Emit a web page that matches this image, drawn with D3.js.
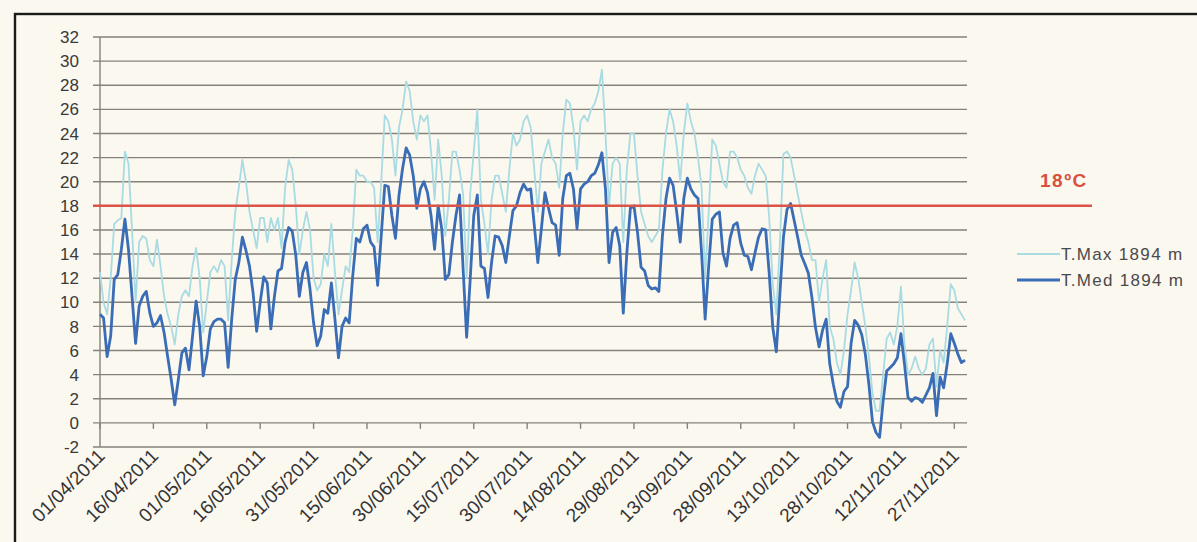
<!DOCTYPE html>
<html><head><meta charset="utf-8">
<script src="https://cdn.jsdelivr.net/npm/d3@7"></script>
<style>
html,body{margin:0;padding:0;background:#fbf8f0;overflow:hidden;}
svg{display:block;}
</style></head>
<body>
<svg id="chart" width="1197" height="542"></svg>
<script>
// ---- data ----
const startDate = "01/04/2011";
const tickLabels = ["01/04/2011","16/04/2011","01/05/2011","16/05/2011","31/05/2011","15/06/2011","30/06/2011","15/07/2011","30/07/2011","14/08/2011","29/08/2011","13/09/2011","28/09/2011","13/10/2011","28/10/2011","12/11/2011","27/11/2011"];
const yTicks = [-2,0,2,4,6,8,10,12,14,16,18,20,22,24,26,28,30,32];
const threshold = 18;
const thresholdLabel = "18ºC";
const seriesNames = ["T.Max 1894 m","T.Med 1894 m"];
const tMax = [
12.5,10,9,12,16.5,16.8,17,22.5,21.5,16,
10,15,15.5,15.3,13.5,13,15.2,13,10.5,9,
8,6.5,9,10.5,11,10.5,13,14.5,12,7.5,
10,12.5,13,12.5,13.5,13,8.5,13.5,17.5,19.5,
21.8,20,17.5,16,14.5,17,17,15,17,16,
17,14.5,19.5,21.8,21,18,14,16,17.5,16,
12,11,11.5,14,13,16.5,12.5,9,11,13,
12.5,16,21,20.5,20.5,20,20,19.5,15,20,
25.5,25,23.5,20.5,24.5,26,28.3,27.5,25,23.5,
25.5,25,25.5,22.5,18.5,23.5,20.5,15.5,18.5,22.5,
22.5,21,19,12,19,22.5,26,18.5,16.5,14,
18.5,20.5,20.5,19,17.5,21,24,23,23.5,25,
25.5,24.5,21,17.5,21.5,22.5,23.5,22,21.5,19.5,
24,26.8,26.5,24.5,21,25,25.5,25,26,26.5,
27.5,29.3,24,18,21.5,22,21.5,15,21,24,
24,20.5,17.5,16.5,15.5,15,15.5,16,21,24,
26,25,23,20,24,26.5,25,24,22,19.5,
12,17.5,23.5,23,21.5,20,19.5,22.5,22.5,22,
21,20.5,19.5,19,20.5,21.5,21,20.5,17,11.5,
9,15,22.3,22.5,22,20.5,19,17.5,16,15,
13.5,13.5,10,12,13.5,8,7,5,4,6,
9,11,13.3,12,10,8,5.5,2.5,1,1,
4,7,7.5,6.5,8,11.3,6.5,4,4.5,5.5,
4.5,4,4.5,6.5,7,3,6,5,8,11.5,
11,9.5,9,8.5];
const tMed = [
9.0,8.7,5.5,7.2,11.9,12.3,14.4,16.9,14.4,10.5,
6.6,9.7,10.5,10.9,9.1,8.0,8.3,8.9,7.5,5.5,
3.6,1.5,3.6,5.8,6.2,4.4,7.2,10.1,8.0,3.9,
5.5,7.8,8.4,8.6,8.6,8.3,4.6,8.6,11.9,13.3,
15.4,14.3,13.0,10.8,7.6,10.0,12.1,11.6,7.8,10.5,
12.6,12.8,15.0,16.2,15.9,13.9,10.5,12.5,13.3,11.1,
8.3,6.4,7.2,9.4,9.1,11.6,8.6,5.4,8.0,8.7,
8.3,12.2,15.3,15.0,16.1,16.4,15.0,14.6,11.4,15.5,
19.7,19.6,17.2,15.3,18.9,21.1,22.8,22.2,20.5,17.8,
19.4,20.0,19.1,17.2,14.4,18.0,16.1,11.9,12.3,15.0,
17.2,18.9,12.8,7.1,11.9,17.2,18.9,13.0,12.8,10.4,
13.3,15.5,15.4,14.7,13.3,15.5,17.6,18.0,19.1,19.8,
19.3,19.4,16.4,13.3,16.1,19.1,17.8,16.6,16.4,13.9,
18.6,20.5,20.7,19.4,16.1,19.4,19.8,20.0,20.5,20.7,
21.4,22.4,19.4,13.3,15.8,16.2,14.7,9.1,14.1,17.8,
18.0,15.8,12.9,12.6,11.4,11.1,11.2,10.9,15.5,18.6,
20.3,19.7,17.5,15.0,18.6,20.3,19.4,18.9,18.6,14.1,
8.6,13.0,16.9,17.3,17.5,14.1,13.0,15.3,16.4,16.6,
14.9,13.9,13.8,12.7,14.1,15.4,16.1,16.0,12.4,7.9,
5.9,10.7,15.4,17.7,18.2,16.8,15.4,13.9,13.2,12.4,
10.4,7.9,6.3,7.7,8.6,4.9,3.2,1.8,1.3,2.6,
3.0,6.6,8.5,8.1,7.3,5.7,3.2,0.1,-0.8,-1.2,
1.8,4.3,4.6,4.9,5.4,7.4,4.9,2.1,1.8,2.1,
2.0,1.7,2.3,2.9,4.1,0.6,3.8,2.9,4.9,7.4,
6.6,5.7,5.0,5.2];

// ---- drawing ----
const parse = d3.timeParse("%d/%m/%Y");
const t0 = parse(startDate);
const dates = tMed.map((_, i) => d3.timeDay.offset(t0, i));
const svg = d3.select("#chart");

const x = d3.scaleTime().domain([t0, dates[dates.length - 1]]).range([100, 965]);
const y = d3.scaleLinear().domain([-2, 32]).range([447, 37]);
const gridLeft = 93, gridRight = 967;
const font = "Liberation Sans, Arial, sans-serif";

// frame
svg.append("rect").attr("x", 15).attr("y", 14).attr("width", 1300).attr("height", 700)
  .attr("fill", "none").attr("stroke", "#1a1a1a").attr("stroke-width", 2.4);

// horizontal gridlines
svg.append("g").selectAll("line").data(yTicks).join("line")
  .attr("x1", gridLeft).attr("x2", gridRight)
  .attr("y1", d => y(d)).attr("y2", d => y(d))
  .attr("stroke", "#85827c").attr("stroke-width", 1.4);

// y axis line
svg.append("line").attr("x1", 100).attr("x2", 100).attr("y1", y(32)).attr("y2", y(-2))
  .attr("stroke", "#85827c").attr("stroke-width", 1.4);

// y labels
svg.append("g").selectAll("text").data(yTicks).join("text")
  .attr("x", 79).attr("y", d => y(d)).attr("dy", "0.36em")
  .attr("text-anchor", "end")
  .attr("font-family", font).attr("font-size", 17)
  .attr("fill", "#3a3a3a").text(d => d);

// x ticks (on zero line) and labels at bottom
const tickDates = tickLabels.map(parse);
svg.append("g").selectAll("line").data(tickDates).join("line")
  .attr("x1", d => x(d)).attr("x2", d => x(d))
  .attr("y1", y(0)).attr("y2", y(0) + 6)
  .attr("stroke", "#85827c").attr("stroke-width", 1.4);
svg.append("g").selectAll("text").data(tickLabels).join("text")
  .attr("transform", d => `translate(${x(parse(d)) + 6},${y(-2) + 10}) rotate(-45)`)
  .attr("text-anchor", "end")
  .attr("font-family", font).attr("font-size", 19)
  .attr("fill", "#333").text(d => d);

// series lines
const line = d3.line().x((d, i) => x(dates[i])).y(d => y(d));
svg.append("path").datum(tMax).attr("d", line)
  .attr("fill", "none").attr("stroke", "#a9dbe2").attr("stroke-width", 1.8)
  .attr("stroke-linejoin", "round");
svg.append("path").datum(tMed).attr("d", line)
  .attr("fill", "none").attr("stroke", "#3a6db5").attr("stroke-width", 2.8)
  .attr("stroke-linejoin", "round");

// threshold line
svg.append("line").attr("x1", gridLeft).attr("x2", 1092)
  .attr("y1", y(threshold)).attr("y2", y(threshold))
  .attr("stroke", "#db5546").attr("stroke-width", 2.6);
svg.append("text").attr("x", 1040).attr("y", 187)
  .attr("font-family", font).attr("font-size", 19).attr("letter-spacing", 1.5)
  .attr("font-weight", "bold").attr("fill", "#d9503f").text(thresholdLabel);

// legend
const legColors = ["#a9dbe2", "#3a6db5"];
const legWidths = [1.8, 2.8];
const legY = [254, 280];
seriesNames.forEach((n, i) => {
  svg.append("line").attr("x1", 1017).attr("x2", 1060)
    .attr("y1", legY[i]).attr("y2", legY[i])
    .attr("stroke", legColors[i]).attr("stroke-width", legWidths[i]);
  svg.append("text").attr("x", 1061).attr("y", legY[i]).attr("dy", "0.36em")
    .attr("font-family", font).attr("font-size", 17)
    .attr("letter-spacing", 1.3)
    .attr("fill", "#4a4a4a").text(n);
});
</script>
</body></html>
